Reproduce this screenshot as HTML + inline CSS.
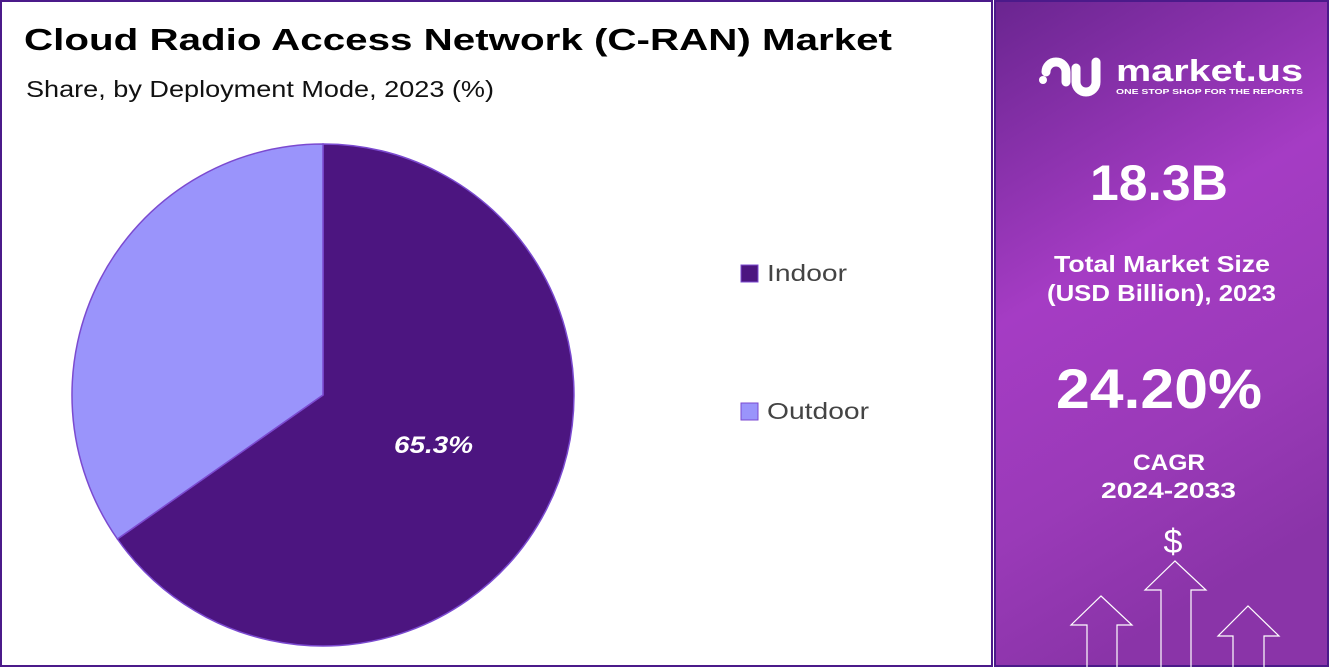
<!DOCTYPE html>
<html><head><meta charset="utf-8"><style>
html,body{margin:0;padding:0;background:#fff}
svg{display:block}
text{font-family:"Liberation Sans",sans-serif}
</style></head><body>
<svg width="1330" height="668" viewBox="0 0 1330 668" xmlns="http://www.w3.org/2000/svg">
<defs>
<linearGradient id="bg" x1="0" y1="0" x2="0.3" y2="1">
<stop offset="0" stop-color="#6a2590"/>
<stop offset="0.45" stop-color="#a53cc4"/>
<stop offset="0.75" stop-color="#9a3ab8"/>
<stop offset="1" stop-color="#8a34a8"/>
</linearGradient>
</defs>
<rect x="1" y="1" width="991" height="665" fill="#fff" stroke="#4b1a8a" stroke-width="2"/>
<text x="24" y="50" font-size="31" font-weight="bold" fill="#000" textLength="868" lengthAdjust="spacingAndGlyphs">Cloud Radio Access Network (C-RAN) Market</text>
<text x="26" y="97" font-size="23" fill="#111" textLength="468" lengthAdjust="spacingAndGlyphs">Share, by Deployment Mode, 2023 (%)</text>
<path d="M323,395 L323,144 A251,251 0 1 1 117.4,539 Z" fill="#4c1580" stroke="#7b4ad0" stroke-width="1.5"/>
<path d="M323,395 L117.4,539 A251,251 0 0 1 323,144 Z" fill="#9a94fb" stroke="#7b4ad0" stroke-width="1.5"/>
<text x="394" y="453" font-size="24" font-weight="bold" font-style="italic" fill="#fff" textLength="79" lengthAdjust="spacingAndGlyphs">65.3%</text>
<rect x="741" y="265" width="17" height="17" fill="#4c1580" stroke="#7b4ad0"/>
<text x="767" y="281" font-size="23" fill="#444" textLength="80" lengthAdjust="spacingAndGlyphs">Indoor</text>
<rect x="741" y="403" width="17" height="17" fill="#9a94fb" stroke="#7b4ad0"/>
<text x="767" y="419" font-size="23" fill="#444" textLength="102" lengthAdjust="spacingAndGlyphs">Outdoor</text>
<rect x="995" y="1" width="333" height="665" fill="url(#bg)" stroke="#4b1a8a" stroke-width="2"/>
<g fill="none" stroke="#fff" stroke-width="9" stroke-linecap="round">
<path d="M1046,72 A10,10 0 0 1 1066,72 L1066,82"/>
<path d="M1076,68 L1076,82 A10,10 0 0 0 1096,82 L1096,62"/>
</g>
<circle cx="1043" cy="80" r="4" fill="#fff"/>
<text x="1116" y="81" font-size="31" font-weight="bold" fill="#fff" textLength="187" lengthAdjust="spacingAndGlyphs">market.us</text>
<text x="1116" y="94" font-size="7.5" font-weight="bold" fill="#fff" textLength="187" lengthAdjust="spacingAndGlyphs">ONE STOP SHOP FOR THE REPORTS</text>
<text x="1090" y="200" font-size="50" font-weight="bold" fill="#fff" textLength="138" lengthAdjust="spacingAndGlyphs">18.3B</text>
<text x="1054" y="272" font-size="23" font-weight="bold" fill="#fff" textLength="216" lengthAdjust="spacingAndGlyphs">Total Market Size</text>
<text x="1047" y="301" font-size="23" font-weight="bold" fill="#fff" textLength="229" lengthAdjust="spacingAndGlyphs">(USD Billion), 2023</text>
<text x="1056" y="408" font-size="56" font-weight="bold" fill="#fff" textLength="206" lengthAdjust="spacingAndGlyphs">24.20%</text>
<text x="1133" y="470" font-size="22" font-weight="bold" fill="#fff" textLength="72" lengthAdjust="spacingAndGlyphs">CAGR</text>
<text x="1101" y="498" font-size="22" font-weight="bold" fill="#fff" textLength="135" lengthAdjust="spacingAndGlyphs">2024-2033</text>
<text x="1173" y="553" font-size="34" fill="#fff" text-anchor="middle">$</text>
<g fill="none" stroke="#fff" stroke-width="1.2">
<polyline points="1087,668 1087,625 1071,625 1101,596 1132,625 1117,625 1117,668"/>
<polyline points="1161,668 1161,590 1145,590 1175,561 1206,590 1191,590 1191,668"/>
<polyline points="1233,668 1233,636 1218,636 1248,606 1279,636 1264,636 1264,668"/>
</g>
</svg>
</body></html>
